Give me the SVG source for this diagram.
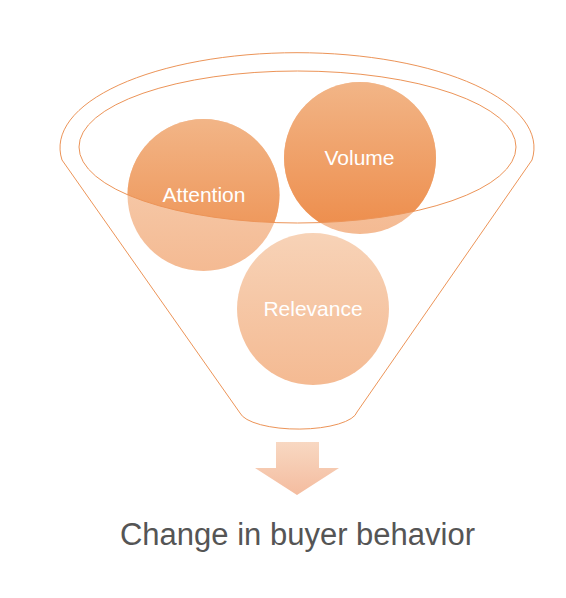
<svg xmlns="http://www.w3.org/2000/svg" width="566" height="598" viewBox="0 0 566 598">
<defs>
<style>
.ln{fill:none;stroke:#EC9458;stroke-width:1}
.lbl{font-family:"Liberation Sans",Arial,sans-serif;font-size:21px;fill:#FFFFFF;text-anchor:middle}
.soft{fill:url(#cg);fill-opacity:0.6}
.full{fill:url(#cg)}
</style>
<linearGradient id="cg" x1="0" y1="0" x2="0" y2="1">
<stop offset="0" stop-color="#F2B587"/>
<stop offset="1" stop-color="#ED8C4A"/>
</linearGradient>
<linearGradient id="ag" x1="0" y1="0" x2="0" y2="1">
<stop offset="0" stop-color="#F8D8C2"/>
<stop offset="1" stop-color="#F4BC9F"/>
</linearGradient>
<clipPath id="inner">
<ellipse cx="297.5" cy="147" rx="218.5" ry="76"/>
</clipPath>
</defs>
<g id="funnel">
<path class="ln" d="M62,160 A237 95 0 1 1 532,160 L357,412 A59 19 0 0 1 240,413 Z"/>
</g>
<g id="attention">
<circle class="soft" cx="203.5" cy="195" r="76"/>
<circle class="full" cx="203.5" cy="195" r="76" clip-path="url(#inner)"/>
<text class="lbl" x="204" y="202">Attention</text>
</g>
<g id="volume">
<circle class="soft" cx="360" cy="158" r="76"/>
<circle class="full" cx="360" cy="158" r="76" clip-path="url(#inner)"/>
<text class="lbl" x="359.5" y="165">Volume</text>
</g>
<g id="relevance">
<circle class="soft" cx="313" cy="309" r="76"/>
<text class="lbl" x="313" y="316">Relevance</text>
</g>
<g id="rim">
<ellipse class="ln" cx="297.5" cy="147" rx="218.5" ry="76"/>
</g>
<g id="connectors">
<path d="M276,442 H319 V468 H339 L297,495 L255,468 H276 Z" fill="url(#ag)"/>
</g>
<g id="result">
<text x="297.5" y="545" font-family="'Liberation Sans',Arial,sans-serif" font-size="31" fill="#555555" text-anchor="middle">Change in buyer behavior</text>
</g>
</svg>
